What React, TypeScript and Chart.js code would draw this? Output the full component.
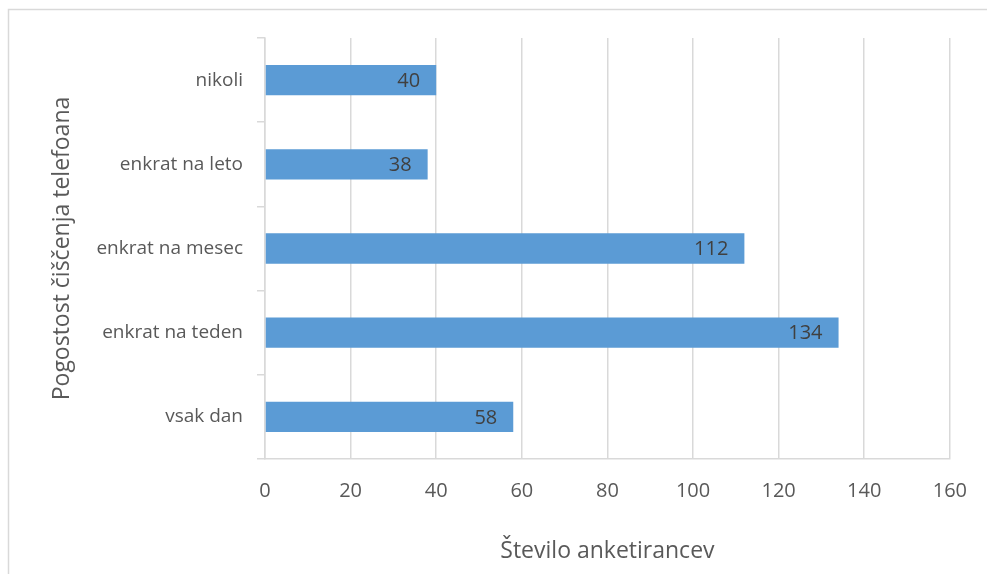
import React, { useEffect, useRef } from "react";
import { Chart, registerables } from "chart.js";

Chart.register(...registerables);

const categories = ["nikoli", "enkrat na leto", "enkrat na mesec", "enkrat na teden", "vsak dan"];
const counts = [40, 38, 112, 134, 58];
const xTicks = [0, 20, 40, 60, 80, 100, 120, 140, 160];
const xTitle = "Število anketirancev";
const yTitle = "Pogostost čiščenja telefoana";

const FONT = "'Open Sans', sans-serif";

const framePlugin = {
  id: "frame",
  beforeDraw(chart: any) {
    const ctx = chart.ctx;
    ctx.save();
    ctx.strokeStyle = "#d9d9d9";
    ctx.lineWidth = 1.5;
    ctx.beginPath();
    ctx.moveTo(8.5, chart.height);
    ctx.lineTo(8.5, 9.5);
    ctx.lineTo(chart.width, 9.5);
    ctx.stroke();
    ctx.restore();
  },
};

const labelPlugin = {
  id: "barLabels",
  afterDatasetsDraw(chart: any) {
    const ctx = chart.ctx;
    const meta = chart.getDatasetMeta(0);
    ctx.save();
    ctx.font = `20px ${FONT}`;
    ctx.fillStyle = "#404040";
    ctx.textAlign = "right";
    ctx.textBaseline = "middle";
    meta.data.forEach((bar: any, i: number) => {
      ctx.fillText(String(counts[i]), bar.x - 16, bar.y + 1);
    });
    ctx.restore();
  },
};

export default function App() {
  const ref = useRef<HTMLCanvasElement>(null);
  useEffect(() => {
    if (!ref.current) return;
    const chart = new Chart(ref.current, {
      type: "bar",
      data: {
        labels: categories,
        datasets: [
          {
            data: counts,
            backgroundColor: "#5b9bd5",
            borderWidth: 0,
            categoryPercentage: 1,
            barPercentage: 0.36,
          },
        ],
      },
      plugins: [framePlugin, labelPlugin],
      options: {
        indexAxis: "y",
        animation: false,
        responsive: false,
        maintainAspectRatio: false,
        layout: { padding: { top: 38, right: 36, left: 0, bottom: 0 } },
        plugins: { legend: { display: false }, tooltip: { enabled: false } },
        scales: {
          x: {
            type: "linear",
            min: 0,
            max: 160,
            afterBuildTicks: (s: any) => {
              s.ticks = xTicks.map((v) => ({ value: v }));
            },
            afterFit: (s: any) => {
              s.height = 115;
            },
            grid: { color: "#d9d9d9", lineWidth: 1.5, drawTicks: false },
            border: { display: true, color: "#d9d9d9", width: 1.5 },
            ticks: { color: "#595959", font: { family: FONT, size: 20 }, padding: 20 },
            title: {
              display: true,
              text: xTitle,
              color: "#595959",
              font: { family: FONT, size: 23 },
              padding: { top: 0, bottom: 9 },
            },
          },
          y: {
            type: "category",
            afterFit: (s: any) => {
              s.width = 265;
            },
            grid: {
              color: "#d9d9d9",
              lineWidth: 1.5,
              drawOnChartArea: false,
              drawTicks: true,
              tickLength: 8,
              offset: true,
            },
            border: { display: true, color: "#d9d9d9", width: 1.5 },
            ticks: { color: "#595959", font: { family: FONT, size: 19 }, padding: 14 },
            title: {
              display: true,
              text: yTitle,
              color: "#595959",
              font: { family: FONT, size: 23 },
              padding: { top: 49, bottom: 0 },
            },
          },
        },
      },
    } as any);
    return () => chart.destroy();
  }, []);
  return (
    <div style={{ position: "fixed", left: 0, top: 0, width: 987, height: 574, background: "#fff" }}>
      <canvas ref={ref} width={987} height={574} style={{ width: 987, height: 574, display: "block" }} />
    </div>
  );
}
